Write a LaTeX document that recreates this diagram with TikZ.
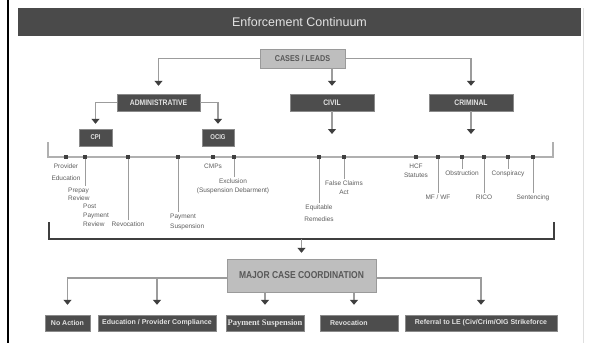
\documentclass[tikz,border=0pt]{standalone}
\usepackage{fontspec}
\setmainfont{Liberation Sans}
\newfontfamily\condfont[FakeStretch=0.85]{Liberation Sans}
\newfontfamily\timesfont{Liberation Serif}
\usetikzlibrary{arrows.meta}
\definecolor{bardark}{HTML}{4A4A4A}
\definecolor{boxdark}{HTML}{4D4D4D}
\definecolor{boxedge}{HTML}{8A8A8A}
\definecolor{boxtext}{HTML}{E2E2E2}
\definecolor{boxlight}{HTML}{BEBEBE}
\definecolor{lightedge}{HTML}{9A9A9A}
\definecolor{lighttext}{HTML}{575757}
\definecolor{linegray}{HTML}{9C9C9C}
\definecolor{tipdark}{HTML}{3F3F3F}
\definecolor{labelgray}{HTML}{5E5E5E}
\tikzset{
  % boxes
  title bar/.style={fill=bardark, text=boxtext, minimum width=563pt, minimum height=28pt,
    inner sep=0pt, font=\fontsize{12.5}{14}\selectfont},
  dark box/.style={draw=boxedge, fill=boxdark, text=boxtext, inner sep=0pt, minimum height=17pt,
    font=\condfont\bfseries\fontsize{8}{9}\selectfont},
  light box/.style={draw=lightedge, fill=boxlight, text=lighttext, inner sep=0pt,
    font=\condfont\bfseries\fontsize{8.5}{10}\selectfont},
  bottom box/.style={draw=boxedge, fill=boxdark, text=boxtext, inner sep=0pt, minimum height=16pt,
    font=\bfseries\fontsize{7}{8}\selectfont},
  % connectors
  link/.style={draw=linegray, line width=1.1pt, -{Triangle[width=8pt,length=5pt,color=tipdark]}},
  drop line/.style={draw=linegray, line width=0.8pt, shorten >=2pt},
  time line/.style={draw=linegray!80, line width=1.8pt},
  bracket line/.style={draw=tipdark, line width=2pt},
  tick box/.style={fill=tipdark, minimum size=4.5pt, inner sep=0pt},
  small label/.style={font=\fontsize{6.5}{8}\selectfont, text=labelgray, inner sep=0pt, align=center},
}

\begin{document}
\begin{tikzpicture}[x=1pt,y=-1pt]
\useasboundingbox[fill=white] (0,0) rectangle (589,343);
% frame
\draw[black, line width=2.5pt] (8,0) -- (8,343);
\draw[gray!25, line width=1pt] (583,8) -- (583,343);

% title
\node[title bar] (title) at (299.5,22) {Enforcement Continuum};

% tree
\node[light box, minimum width=85pt, minimum height=19pt] (cases) at (302.5,58.5) {CASES / LEADS};
\node[dark box, minimum width=83pt] (admin) at (158.5,102.5) {ADMINISTRATIVE};
\node[dark box, minimum width=84pt] (civil) at (332,102.5) {CIVIL};
\node[dark box, minimum width=84pt] (criminal) at (471,102.5) {CRIMINAL};
\node[dark box, minimum width=33pt, font=\condfont\bfseries\fontsize{7}{8}\selectfont] (cpi) at (95.5,137.5) {CPI};
\node[dark box, minimum width=32pt, font=\condfont\bfseries\fontsize{7}{8}\selectfont] (ocig) at (218,137.5) {OCIG};

\draw[link, shorten >=8pt] (cases.west) -| (admin.north);
\draw[link, shorten >=8pt] (cases.south -| civil.north) -- (civil.north);
\draw[link, shorten >=8pt] (cases.east) -| (criminal.north);
\draw[link, shorten >=5pt] (admin.west) -| (cpi.north);
\draw[link, shorten >=5pt] (admin.east) -| (ocig.north);

% time line
\coordinate (tl-a) at (48,142);
\coordinate (tl-b) at (48,157);
\coordinate (tl-c) at (553,157);
\coordinate (tl-d) at (553,142);
\draw[time line] (tl-a) -- (tl-b) -- (tl-c) -- (tl-d);
\draw[link, shorten >=23pt] (civil.south) -- (civil.south |- tl-b);
\draw[link, shorten >=23pt] (criminal.south) -- (criminal.south |- tl-b);

\node[tick box] (t-provider) at (66,157) {};
\node[tick box] (t-prepay) at (85,157) {};
\node[tick box] (t-revoc) at (128,157) {};
\node[tick box] (t-payment) at (178,157) {};
\node[tick box] (t-cmp) at (213,157) {};
\node[tick box] (t-exclusion) at (234,157) {};
\node[tick box] (t-equitable) at (319,157) {};
\node[tick box] (t-falseclaims) at (344,157) {};
\node[tick box] (t-hcf) at (416,157) {};
\node[tick box] (t-mfwf) at (438,157) {};
\node[tick box] (t-obstruction) at (462,157) {};
\node[tick box] (t-rico) at (484,157) {};
\node[tick box] (t-conspiracy) at (508,157) {};
\node[tick box] (t-sentencing) at (533,157) {};

\node[small label, anchor=north] (provider) at (66,164) {Provider\\[4pt]Education};
\node[small label, anchor=north west, align=left] (prepay) at (68,188) {Prepay\\Review};
\node[small label, anchor=north west, align=left] (postpay) at (83,204) {Post\\[1pt]Payment\\[1pt]Review};
\node[small label, anchor=north] (revoc-l) at (128,222) {Revocation};
\node[small label, anchor=north west, align=left] (payment) at (170,214) {Payment\\[2pt]Suspension};
\node[small label, anchor=north] (cmp) at (213,164) {CMPs};
\node[small label, anchor=north] (exclusion) at (233,179) {Exclusion\\[1pt](Suspension Debarment)};
\node[small label, anchor=north] (equitable) at (319,205) {Equitable\\[4pt]Remedies};
\node[small label, anchor=north] (falseclaims) at (344,181) {False Claims\\[1pt]Act};
\node[small label, anchor=north] (hcf) at (416,164) {HCF\\[1pt]Statutes};
\node[small label, anchor=north] (mfwf) at (438,195) {MF / WF};
\node[small label, anchor=north] (obstruction) at (462,171) {Obstruction};
\node[small label, anchor=north] (rico) at (484,195) {RICO};
\node[small label, anchor=north] (conspiracy) at (508,171) {Conspiracy};
\node[small label, anchor=north] (sentencing) at (533,195) {Sentencing};

\draw[drop line] (t-prepay) -- (t-prepay |- prepay.north);
\draw[drop line] (t-revoc) -- (t-revoc |- revoc-l.north);
\draw[drop line] (t-payment) -- (t-payment |- payment.north);
\draw[drop line] (t-exclusion) -- (t-exclusion |- exclusion.north);
\draw[drop line] (t-equitable) -- (t-equitable |- equitable.north);
\draw[drop line] (t-falseclaims) -- (t-falseclaims |- falseclaims.north);
\draw[drop line] (t-mfwf) -- (t-mfwf |- mfwf.north);
\draw[drop line] (t-obstruction) -- (t-obstruction |- obstruction.north);
\draw[drop line] (t-rico) -- (t-rico |- rico.north);
\draw[drop line] (t-conspiracy) -- (t-conspiracy |- conspiracy.north);
\draw[drop line] (t-sentencing) -- (t-sentencing |- sentencing.north);

% bracket
\coordinate (br-a) at (49,222);
\coordinate (br-b) at (49,239);
\coordinate (br-c) at (554,239);
\coordinate (br-d) at (554,222);
\draw[bracket line] (br-a) -- (br-b) -- (br-c) -- (br-d);

% coordination
\node[light box, minimum width=149pt, minimum height=33pt, font=\condfont\bfseries\fontsize{10}{12}\selectfont] (major) at (301.5,275.5) {MAJOR CASE COORDINATION};
\draw[link, shorten >=6pt] (major.north |- br-b) -- (major.north);

\node[bottom box, minimum width=45pt] (noaction) at (67.5,323) {No Action};
\node[bottom box, minimum width=118pt] (education) at (157,323) {Education / Provider Compliance};
\node[bottom box, minimum width=78pt, font=\timesfont\bfseries\fontsize{8.5}{9}\selectfont] (paysusp) at (265,323) {Payment Suspension};
\node[bottom box, text width=58pt, inner xsep=10pt, align=left] (revoc) at (359,323) {Revocation};
\node[bottom box, minimum width=152pt] (referral) at (481,323) {Referral to LE (Civ/Crim/OIG Strikeforce};

\draw[link, shorten >=10pt] (major.west |- 0,278) -| (noaction.north);
\draw[link, shorten >=10pt] (education.north |- 0,278) -- (education.north);
\draw[link, shorten >=10pt] (major.south -| paysusp.north) -- (paysusp.north);
\draw[link, shorten >=10pt] (major.south -| 354,0) -- (354,0 |- revoc.north);
\draw[link, shorten >=10pt] (major.east |- 0,278) -| (referral.north);
\end{tikzpicture}
\end{document}
